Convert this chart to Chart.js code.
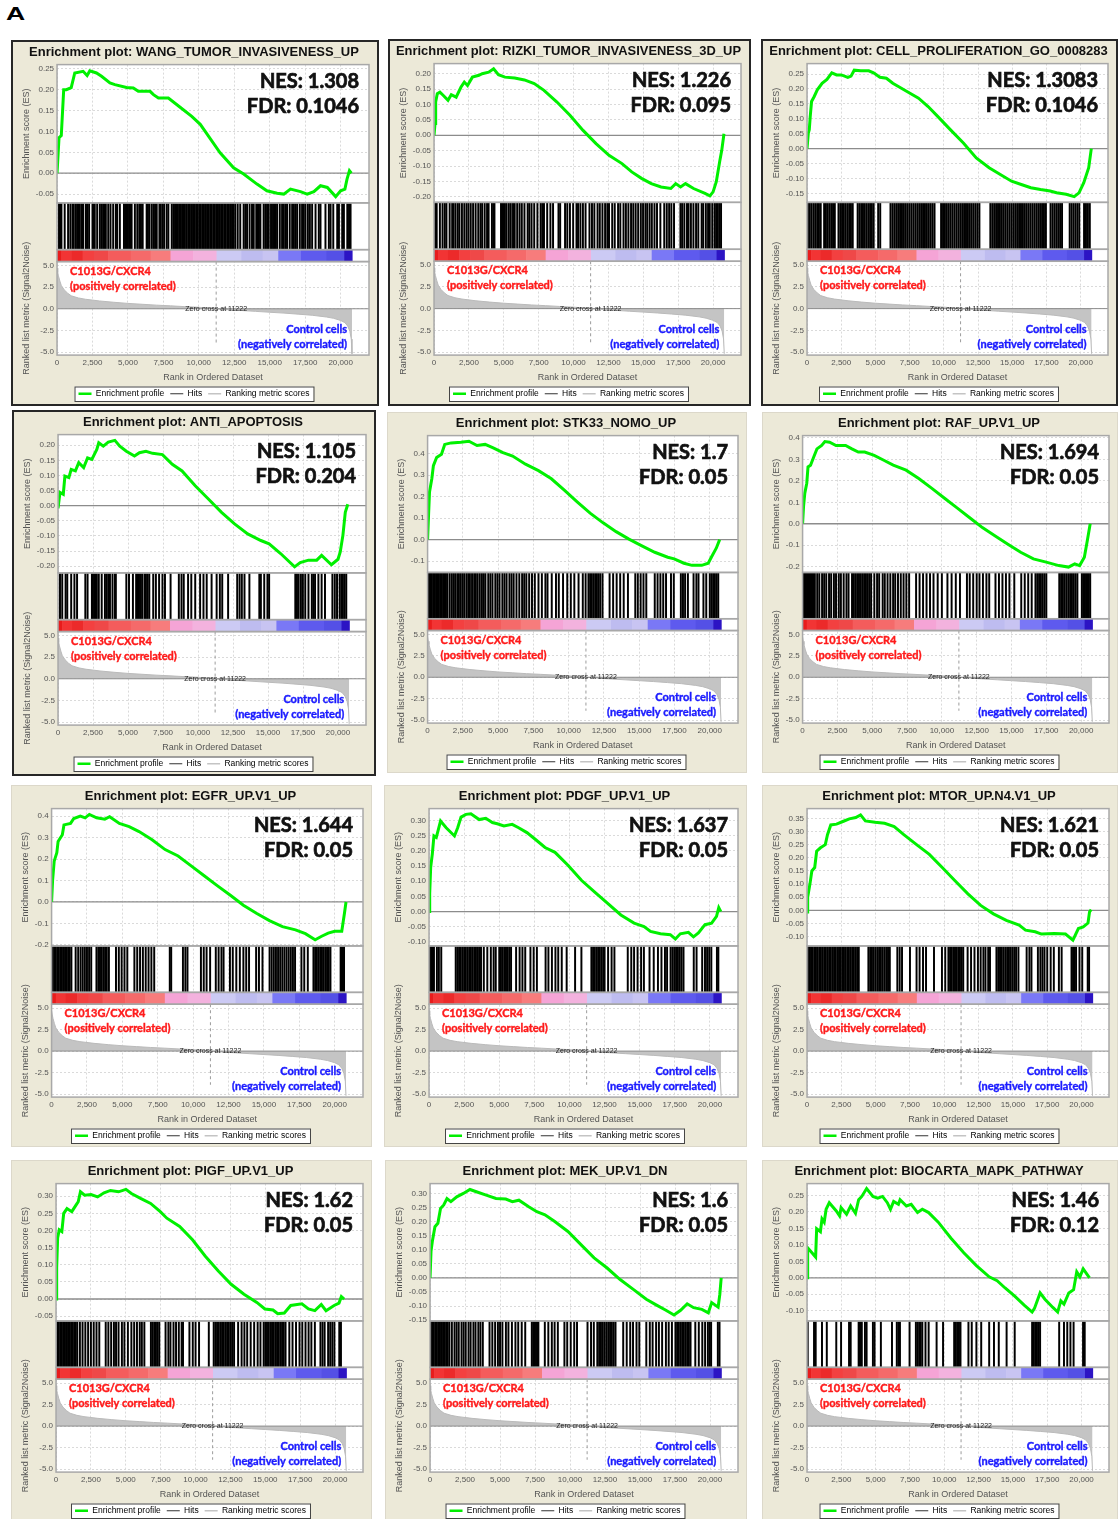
<!DOCTYPE html>
<html>
<head>
<meta charset="utf-8">
<script src="https://cdn.jsdelivr.net/npm/chart.js@4.4.1/dist/chart.umd.min.js"></script>
<style>
  body { margin: 0; width: 1119px; height: 1519px; background: #fff; position: relative; overflow: hidden; }
  #letter { position: absolute; left: 6px; top: 4px; font: bold 19px/19px "Liberation Sans", Arial, sans-serif; transform: scaleX(1.4); transform-origin: left top; }
  .panel { position: absolute; box-sizing: border-box; background: #ece9d8; }
  .panel.framed { border: 2px solid #262626; }
  .panel.plain { border: 1px solid #dcd8ca; }
  .panel canvas { display: block; }
</style>
</head>
<body>
<div id="letter">A</div>
<script>
// ranked list (shared by every panel)
const rankX = [0, 50, 100, 200, 300, 500, 750, 1000, 1500, 2000, 3000, 4000, 5000, 6000, 7000, 8000, 9000, 10000, 11222, 12000, 13000, 14000, 15000, 16000, 17000, 18000, 19000, 19500, 20000, 20300, 20500, 20650, 20750, 20800];
const rankY = [4.7, 4.2, 3.8, 3.2, 2.7, 2.2, 1.8, 1.5, 1.25, 1.1, 0.9, 0.75, 0.62, 0.52, 0.42, 0.34, 0.25, 0.17, 0, -0.1, -0.2, -0.3, -0.4, -0.5, -0.62, -0.75, -0.95, -1.1, -1.35, -1.6, -2.0, -2.6, -3.5, -5.2];
const zeroCross = 11222;
const listEnd = 20800;
const xTicks = [0, 2500, 5000, 7500, 10000, 12500, 15000, 17500, 20000];
const rankTicks = [-5, -2.5, 0, 2.5, 5];
// colour of the ranked list heat bar, by rank
const heatStops = [[0, '#e81c1c'], [300, '#f23434'], [1000, '#ec2a2a'], [1800, '#f34040'], [2600, '#ef4848'], [3600, '#f45c5c'], [5200, '#f56a6a'], [6600, '#f77c7c'], [8000, '#f5a4d6'], [9600, '#f3b2de'], [11250, '#cccaf4'], [13000, '#bebcf0'], [14500, '#c8c4f2'], [15600, '#7a78f6'], [17200, '#5e5aee'], [19000, '#5450e6'], [20250, '#2c14c4'], [20800, null]];

const titles = ['WANG_TUMOR_INVASIVENESS_UP', 'RIZKI_TUMOR_INVASIVENESS_3D_UP', 'CELL_PROLIFERATION_GO_0008283', 'ANTI_APOPTOSIS', 'STK33_NOMO_UP', 'RAF_UP.V1_UP', 'EGFR_UP.V1_UP', 'PDGF_UP.V1_UP', 'MTOR_UP.N4.V1_UP', 'PIGF_UP.V1_UP', 'MEK_UP.V1_DN', 'BIOCARTA_MAPK_PATHWAY'];
const nesValues = ['1.308', '1.226', '1.3083', '1.105', '1.7', '1.694', '1.644', '1.637', '1.621', '1.62', '1.6', '1.46'];
const fdrValues = ['0.1046', '0.095', '0.1046', '0.204', '0.05', '0.05', '0.05', '0.05', '0.05', '0.05', '0.05', '0.12'];
// ES axis: min, max, tick step
const esRanges = [[-0.071, 0.26, 0.05], [-0.218, 0.233, 0.05], [-0.18, 0.285, 0.05], [-0.222, 0.235, 0.05], [-0.153, 0.484, 0.1], [-0.227, 0.411, 0.1], [-0.205, 0.435, 0.1], [-0.113, 0.339, 0.05], [-0.135, 0.387, 0.05], [-0.064, 0.337, 0.05], [-0.153, 0.335, 0.05], [-0.131, 0.286, 0.05]];

// running enrichment score, [rank, ES]
const esWang = [[0,0],[140,0.085],[300,0.09],[470,0.2],[660,0.2],[1000,0.205],[1250,0.24],[1840,0.244],[2120,0.234],[2310,0.245],[2780,0.24],[3140,0.232],[3730,0.216],[4080,0.212],[4900,0.205],[5380,0.204],[5730,0.196],[6560,0.196],[6800,0.188],[7150,0.18],[7850,0.18],[8680,0.158],[9500,0.136],[10100,0.117],[10680,0.089],[11500,0.049],[12450,0.013],[13160,-0.002],[14100,-0.026],[14800,-0.042],[15520,-0.048],[15990,-0.05],[16460,-0.038],[17170,-0.044],[17640,-0.05],[18110,-0.044],[18580,-0.03],[19060,-0.034],[19650,-0.056],[20000,-0.042],[20300,-0.038],[20450,-0.014],[20620,0.006],[20760,0]];
const esRizki = [[0,0],[70,0.038],[117,0.108],[233,0.135],[420,0.14],[650,0.13],[1000,0.114],[1235,0.132],[1585,0.124],[1935,0.157],[2170,0.173],[2400,0.162],[2750,0.189],[3220,0.195],[3450,0.2],[3920,0.205],[4270,0.216],[4615,0.197],[5080,0.189],[5780,0.186],[6480,0.18],[7180,0.168],[7880,0.146],[8810,0.108],[9740,0.065],[10680,0.016],[11610,-0.027],[12540,-0.065],[13470,-0.092],[14170,-0.119],[14870,-0.14],[15570,-0.157],[16270,-0.168],[16970,-0.173],[17320,-0.157],[17670,-0.168],[18020,-0.157],[18600,-0.173],[19420,-0.189],[19770,-0.197],[20000,-0.184],[20230,-0.151],[20470,-0.086],[20620,-0.049],[20780,0.005]];
const esCell = [[0,0],[94,0.052],[164,0.063],[235,0.108],[330,0.158],[516,0.174],[750,0.197],[1100,0.219],[1455,0.232],[1810,0.254],[2160,0.247],[2510,0.247],[2980,0.239],[3215,0.243],[3450,0.263],[3920,0.261],[4510,0.261],[4860,0.254],[5330,0.239],[5800,0.236],[6270,0.219],[7210,0.194],[8150,0.169],[8850,0.141],[9550,0.108],[10490,0.063],[11430,0.019],[12370,-0.031],[13310,-0.064],[14250,-0.09],[14950,-0.109],[15660,-0.12],[16360,-0.131],[17070,-0.137],[17770,-0.142],[18240,-0.148],[18940,-0.153],[19530,-0.161],[19880,-0.148],[20230,-0.114],[20590,-0.064],[20780,0]];
const esAnti = [[0,-0.009],[140,0.044],[375,0.038],[490,0.098],[775,0.093],[940,0.12],[1240,0.115],[1480,0.142],[1830,0.126],[2110,0.158],[2415,0.153],[2770,0.186],[2910,0.208],[3235,0.197],[3590,0.21],[4060,0.216],[4410,0.197],[4880,0.18],[5460,0.164],[5815,0.175],[6280,0.18],[6750,0.173],[7460,0.169],[8160,0.137],[8860,0.115],[9800,0.066],[10740,0.022],[11680,-0.022],[12610,-0.06],[13550,-0.093],[14490,-0.115],[15080,-0.126],[15900,-0.158],[16900,-0.202],[17300,-0.188],[17890,-0.18],[18480,-0.18],[18830,-0.164],[19530,-0.195],[20000,-0.177],[20160,-0.153],[20350,-0.098],[20520,-0.022],[20700,0.005]];
const esStk = [[0,0],[70,0.116],[137,0.222],[300,0.283],[412,0.344],[640,0.382],[985,0.397],[1215,0.443],[1670,0.45],[2360,0.453],[2930,0.458],[3505,0.438],[4080,0.443],[4650,0.427],[5340,0.405],[6025,0.389],[6940,0.351],[7860,0.321],[8775,0.283],[9690,0.23],[10600,0.176],[11520,0.123],[12440,0.078],[13360,0.037],[14270,0.002],[15190,-0.029],[16100,-0.059],[17020,-0.082],[17480,-0.09],[18170,-0.11],[18740,-0.12],[19430,-0.12],[19890,-0.11],[20110,-0.082],[20460,-0.04],[20700,0]];
const esRaf = [[0,0],[70,0.081],[160,0.143],[300,0.189],[390,0.265],[570,0.273],[800,0.311],[1030,0.349],[1370,0.365],[1600,0.383],[1940,0.38],[2400,0.365],[3090,0.365],[3540,0.349],[4000,0.334],[4460,0.334],[5140,0.319],[5830,0.296],[6510,0.273],[7430,0.25],[8340,0.211],[9260,0.166],[10170,0.12],[11090,0.074],[12000,0.028],[12910,-0.018],[13830,-0.057],[14740,-0.095],[15660,-0.133],[16570,-0.164],[17490,-0.179],[18400,-0.195],[19090,-0.202],[19540,-0.187],[19890,-0.195],[20230,-0.156],[20460,-0.072],[20650,0]];
const esEgfr = [[0,0],[70,0.099],[184,0.19],[370,0.229],[460,0.282],[760,0.313],[875,0.359],[1340,0.366],[1570,0.389],[2030,0.4],[2370,0.392],[2670,0.408],[3180,0.392],[3760,0.386],[4100,0.397],[4790,0.366],[5480,0.351],[6180,0.328],[7100,0.29],[8020,0.244],[8940,0.214],[9860,0.168],[10780,0.122],[11700,0.076],[12630,0.031],[13550,-0.015],[14470,-0.053],[15390,-0.087],[16310,-0.115],[17230,-0.13],[17930,-0.148],[18620,-0.176],[19080,-0.16],[19540,-0.145],[20000,-0.137],[20500,-0.137],[20690,-0.053],[20800,0]];
const esPdgf = [[0,0],[47,0.06],[117,0.146],[235,0.19],[350,0.249],[516,0.244],[634,0.265],[820,0.298],[1220,0.276],[1810,0.249],[2040,0.276],[2280,0.311],[2630,0.32],[2980,0.322],[3570,0.303],[4040,0.307],[4510,0.293],[4860,0.289],[5330,0.282],[5920,0.287],[6380,0.276],[6970,0.26],[7560,0.238],[8260,0.211],[8970,0.195],[9910,0.152],[10850,0.103],[11780,0.065],[12720,0.027],[13660,-0.011],[14600,-0.038],[15310,-0.049],[15770,-0.065],[16480,-0.073],[17180,-0.076],[17540,-0.09],[17890,-0.073],[18470,-0.068],[18830,-0.083],[19180,-0.07],[19650,-0.043],[20120,-0.038],[20470,-0.016],[20630,0.013],[20780,0]];
const esMtor = [[0,-0.006],[47,0.05],[210,0.1],[350,0.15],[560,0.163],[700,0.225],[980,0.238],[1330,0.25],[1490,0.288],[1730,0.325],[2150,0.328],[2610,0.338],[3080,0.348],[3550,0.353],[3900,0.363],[4250,0.34],[4950,0.335],[5650,0.331],[6350,0.319],[7050,0.288],[7980,0.25],[8910,0.213],[9850,0.163],[10780,0.113],[11720,0.063],[12650,0.019],[13580,-0.013],[14520,-0.038],[15450,-0.056],[15920,-0.075],[16620,-0.081],[17080,-0.09],[18020,-0.088],[18830,-0.09],[19370,-0.113],[19770,-0.069],[20120,-0.063],[20470,-0.048],[20580,-0.006],[20700,0.003]];
const esPigf = [[0,0],[46,0.091],[115,0.178],[230,0.202],[415,0.197],[550,0.25],[785,0.264],[1130,0.255],[1430,0.274],[1590,0.284],[1750,0.313],[2050,0.303],[2510,0.305],[2980,0.298],[3440,0.31],[3900,0.317],[4480,0.313],[5010,0.32],[5400,0.308],[6090,0.293],[6780,0.279],[7470,0.255],[7940,0.236],[8860,0.212],[9780,0.173],[10700,0.125],[11630,0.082],[12550,0.043],[13470,0.014],[14390,-0.01],[14970,-0.029],[15550,-0.032],[15890,-0.043],[16360,-0.041],[16820,-0.019],[17620,-0.014],[18090,-0.029],[18550,-0.034],[19010,-0.016],[19350,-0.034],[19930,-0.019],[20280,-0.012],[20450,0.007],[20650,0]];
const esMek = [[0,0],[70,0.094],[163,0.129],[350,0.182],[560,0.194],[750,0.247],[980,0.259],[1210,0.282],[1490,0.271],[1910,0.288],[2380,0.3],[2850,0.314],[3310,0.306],[4010,0.294],[4710,0.282],[5410,0.28],[5880,0.271],[6350,0.276],[7050,0.253],[7630,0.235],[8210,0.224],[8910,0.2],[9850,0.165],[10780,0.118],[11720,0.071],[12650,0.035],[13580,-0.006],[14520,-0.041],[15450,-0.076],[16150,-0.096],[16850,-0.115],[17430,-0.132],[17900,-0.115],[18370,-0.092],[18830,-0.106],[19420,-0.112],[19880,-0.124],[20120,-0.088],[20580,-0.104],[20700,-0.059],[20800,0]];
const esBio = [[0,0],[46,0.091],[626,0.063],[700,0.149],[975,0.14],[1090,0.179],[1250,0.169],[1390,0.208],[1620,0.228],[2130,0.203],[2370,0.188],[2480,0.213],[2880,0.193],[3180,0.218],[3530,0.196],[3760,0.237],[3990,0.247],[4340,0.271],[4800,0.247],[5150,0.242],[5500,0.247],[5850,0.228],[6080,0.208],[6310,0.232],[6660,0.223],[6780,0.237],[7240,0.218],[7590,0.223],[8050,0.198],[8400,0.208],[8860,0.198],[9560,0.169],[10490,0.12],[11420,0.076],[12340,0.037],[13270,0.003],[13850,-0.009],[14430,-0.031],[15130,-0.056],[15820,-0.083],[16400,-0.104],[16570,-0.093],[16980,-0.046],[17330,-0.065],[17910,-0.09],[18260,-0.104],[18490,-0.07],[18720,-0.08],[19070,-0.046],[19420,-0.036],[19650,0.018],[19880,0.003],[20120,0.027],[20580,0]];

// gene set members (hits), rank in ordered dataset
const hitsWang = [140,240,310,540,780,940,1090,1180,1320,1420,1490,1600,1720,1790,1840,2030,2120,2260,2500,2590,2660,2830,3020,3140,3250,3350,3440,3610,3770,3960,4150,4240,4430,4720,4810,4900,5000,5090,5190,5260,5490,5660,5800,5920,6040,6320,6410,6510,6670,6790,6910,7030,7220,7310,7430,7550,7730,7850,8090,8210,8320,8420,8520,8620,8720,8820,8920,9020,9150,9260,9370,9480,9590,9700,9810,9920,10030,10140,10250,10360,10470,10580,10690,10800,10910,11020,11130,11240,11350,11460,11570,11680,11790,11900,12010,12120,12230,12340,12450,12570,12740,12920,13160,13280,13400,13580,13750,13870,14050,14150,14240,14340,14570,14690,14810,14930,15090,15230,15330,15420,15520,15710,15870,15990,16110,16220,16410,16580,16700,16810,16930,17120,17280,17400,17520,17690,17830,17990,18230,18460,18580,18930,19170,19290,19480,19760,19880,20110,20230,20470,20590,20700];
const hitsRizki = [70,190,420,610,770,890,1120,1300,1400,1540,1700,1820,2000,2170,2330,2470,2630,2800,2980,3170,3330,3450,3630,3800,3910,4150,4260,4330,4800,4890,4990,5080,5200,5360,5500,5660,5780,5960,6130,6290,6480,6710,6830,6990,7180,7410,7640,7760,7880,8110,8340,8530,8920,9040,9390,9550,9740,9970,10210,10320,10490,10670,10860,11140,11320,11490,11720,11880,12070,12260,12420,12540,12770,12950,13190,13350,13580,13750,13930,14120,14280,14450,14630,14820,14980,15150,15280,15450,15610,15800,15980,16220,16500,16680,16850,17010,17200,17660,17780,17940,18130,18240,18410,18590,18780,18940,19180,19290,19480,19640,19760,19940,20110,20220,20340,20460,20570];
const hitsCell = [60,200,330,470,600,740,870,1000,1250,1380,1510,1640,1770,1900,2030,2300,2430,2560,2690,2820,2950,3080,3210,3340,3700,3830,3960,4090,4220,4350,4480,4610,4740,4870,5200,5350,6100,6240,6380,6520,6660,6800,6940,7080,7220,7360,7500,7640,7780,7920,8060,8200,8340,8480,8620,8760,8900,9040,9180,9320,9800,9940,10080,10220,10360,10500,10640,10780,10920,11060,11200,11340,11480,11620,11760,11900,12040,12180,12320,12460,12600,13400,13540,13680,13820,13960,14100,14240,14380,14520,14660,14800,14940,15080,15220,15360,15500,15640,15780,15920,16060,16200,16340,16480,16620,16760,16900,17040,17180,17320,17460,17800,17940,18080,18220,18360,18500,18640,19200,19340,19480,19620,19760,19900,20250,20390,20530,20670];
const hitsAnti = [140,300,540,660,940,1170,1360,1950,2110,2420,2490,2580,2670,2770,2910,3120,3350,3470,3590,3710,3890,4060,4130,4880,5070,5350,5580,5680,5770,5860,6000,6170,6280,6400,6520,6800,6990,7220,7460,7640,8040,8630,8820,8980,9290,9520,9800,10150,10390,10620,10970,11330,11560,11730,12150,12800,12970,13130,13320,13670,14380,14490,14730,14960,15080,16950,17070,17190,17350,17490,17660,17890,18130,18240,18360,18600,18830,19070,19600,19770,19930,20120,20240,20350,20470,20590];
const hitsStk = [0,100,200,300,400,500,600,700,800,900,1000,1100,1200,1300,1400,1560,1700,1820,1950,2100,2220,2350,2480,2600,2750,2880,3000,3150,3300,3420,3550,3700,3850,3980,4100,4300,4450,4600,4800,4950,5100,5300,5450,5600,5800,5950,6100,6300,6500,6700,6850,7000,7200,7400,7600,7860,8100,8350,8500,8800,9100,9300,9600,9900,10150,10400,10700,11000,11200,11400,11520,11640,11760,11880,12000,12120,12240,12400,12900,13150,13400,13650,13900,14200,14720,14900,15100,15300,15500,16100,16300,16500,16700,16900,17250,17450,17950,18100,18250,18450,18850,19050,19200,19550,19750,20000,20120,20240,20360,20480,20600];
const hitsRaf = [0,80,160,240,320,400,480,560,640,720,800,880,1050,1200,1400,1550,1700,1900,2050,2250,2400,2600,2750,2950,3150,3300,3550,3680,3800,3920,4050,4180,4300,4420,4550,4680,4800,4920,5150,5350,5500,5750,5900,6100,6300,6500,6650,6850,7050,7250,7450,7650,8150,8400,8650,8900,9150,9400,9700,10000,10400,10700,11000,11300,11800,12000,12250,12500,12700,12950,13200,13400,13850,14100,14350,14600,14850,15200,15700,15950,16200,16450,16720,16850,16980,17110,17240,17370,17500,18430,18560,18690,18820,18950,19080,19210,19340,19470,19600,19730,20050,20150,20250,20350,20450,20550,20650];
const hitsEgfr = [70,180,290,400,510,620,730,840,950,1060,1170,1280,1400,1700,1880,2050,2200,2350,2500,2650,2800,3170,3300,3420,3540,3660,3780,3900,4050,4550,4750,4950,5150,5350,5850,6050,6250,6450,6650,6850,7050,7250,8350,8450,9280,9450,9600,10550,10750,10950,11200,11600,11800,12000,12150,12600,12800,13050,13300,13550,13750,13950,14450,14650,14900,15400,15550,15700,15850,16000,16150,16300,16450,16600,16750,16900,17050,17200,17650,17850,18100,18500,18620,18740,18860,18980,19100,19220,19340,19460,19580,19700,20420,20500,20580,20660];
const hitsPdgf = [50,150,250,350,560,700,870,1900,2020,2140,2260,2380,2500,2620,2740,2860,2980,3100,3220,3340,3460,3570,3700,3900,4150,4400,4600,4750,5000,5120,5240,5360,5480,5600,5720,5840,6200,6450,6650,6850,7220,7450,7680,8300,8500,8750,9000,9200,9450,9800,10400,10850,11560,11680,11800,11920,12040,12160,12280,12400,12500,12750,13000,13200,14150,14400,14600,14850,15100,15300,15700,16000,16300,16550,16800,16950,17200,17330,17460,17590,17720,17850,17980,18120,18850,19050,19450,19650,19800,19950,20100,20500,20600];
const hitsMtor = [50,170,290,410,530,650,770,890,1010,1130,1250,1370,1490,1610,1730,1850,1970,2090,2210,2330,2450,2570,2690,2810,2930,3050,3170,3290,3410,3530,3650,3770,4470,4600,4730,4860,4990,5120,5250,5380,5510,5640,5770,5900,6030,6580,6750,6920,7500,7980,8200,8450,8670,9250,9830,10070,10300,10420,10540,10660,10780,10900,11020,11140,11260,11380,11700,11950,12200,12450,12650,12850,13000,13200,13330,13800,13930,14060,14190,14320,14450,14580,14710,14840,14970,15100,15230,15400,16000,16200,16350,16820,17000,17150,17300,17500,17750,17980,18350,18550,19270,19380,19490,19600,19850,20050,20450,20550];
const hitsPigf = [90,200,310,420,530,640,750,860,970,1080,1190,1300,1410,1520,1710,1900,2100,2300,2500,2700,2900,3100,3560,3750,3950,4150,4300,4480,4720,4900,5150,5400,5600,5800,6000,6150,6330,6800,6920,7040,7160,7280,7400,7850,8050,8200,8420,8600,8800,9000,9100,9560,9800,10000,10250,10950,11300,11420,11540,11660,11780,11900,12020,12140,12260,12380,12500,12620,12760,13050,13300,13500,13700,13950,14200,14450,14650,14880,15000,15120,15240,15360,15480,15600,15720,15840,15960,16080,16200,16320,16450,16720,16950,17200,17450,17650,17880,18100,18300,18550,18950,19100,19250,19500,19650,19800,19950,20300,20420];
const hitsMek = [50,160,270,380,490,600,710,820,930,1040,1150,1260,1380,1560,1750,1900,2050,2250,2400,2550,2750,2900,3100,3250,3450,3600,3770,4250,4450,4650,4850,5000,5170,5420,5600,5850,6100,6300,6550,6800,7270,7370,7470,7570,7670,7740,8200,8450,8700,8900,9130,9600,9800,10050,10300,10500,11250,11500,11700,11950,12080,12210,12340,12470,12600,12730,12860,12990,13120,13250,13800,14050,14300,14500,14750,14950,15450,15700,15900,16150,16350,16580,16850,17050,17280,17530,17650,17770,17890,18010,18130,18250,18370,18490,18610,18950,19200,19450,19650,19850,19980,20080,20560,20680];
const hitsBio = [50,510,630,1090,1440,2130,2480,3060,3180,3760,3830,3900,3990,4220,4340,4800,4920,5380,6190,6540,6660,6770,7470,7930,8050,8170,8280,8400,8630,8860,9440,9910,10720,10840,10950,11070,11180,11760,12000,12340,12690,13270,13620,13970,14540,15130,16400,16520,16630,16750,16870,16980,18370,18720,18960,19190,19420,20110,20230];

const esCurves = [esWang, esRizki, esCell, esAnti, esStk, esRaf, esEgfr, esPdgf, esMtor, esPigf, esMek, esBio];
const hitSets = [hitsWang, hitsRizki, hitsCell, hitsAnti, hitsStk, hitsRaf, hitsEgfr, hitsPdgf, hitsMtor, hitsPigf, hitsMek, hitsBio];

// panel boxes on the page: left, top, width, height
const boxes = [
  [11, 40, 368, 366], [388, 39, 363, 367], [761, 39, 357, 367],
  [12, 410, 364, 366], [387, 412, 360, 361], [762, 412, 356, 361],
  [11, 785, 361, 362], [384, 785, 363, 362], [762, 785, 356, 362],
  [11, 1160, 361, 362], [385, 1160, 362, 362], [762, 1160, 356, 362]
];

const SANS = '"Liberation Sans", Arial, sans-serif';
const CAL = 'Lato, "Open Sans", sans-serif';
Chart.defaults.font.family = SANS;
Chart.defaults.color = '#555';

const legendKeys = [
  {text: 'Enrichment profile', color: '#00ee00', width: 2.5},
  {text: 'Hits', color: '#333', width: 1.2},
  {text: 'Ranking metric scores', color: '#c4c4c4', width: 1.5}
];

const commas = v => String(v).replace(/\B(?=(\d{3})+(?!\d))/g, ',');
const setTicks = values => scale => { scale.ticks = values.map(v => ({value: v})); };

function esTickValues(min, max, step) {
  const out = [];
  for (let k = Math.ceil(min / step - 1e-9); k <= Math.floor(max / step + 1e-9); k++) out.push(+(k * step).toFixed(3));
  return out;
}

function legendBox(chart) {
  const hb = chart.legend && chart.legend.legendHitBoxes;
  if (!hb || !hb.length) return null;
  const l = Math.min(...hb.map(h => h.left)) - 4;
  const r = Math.max(...hb.map(h => h.left + h.width)) + 4;
  const t = Math.min(...hb.map(h => h.top)) - 3;
  const b = Math.max(...hb.map(h => h.top + h.height)) + 3;
  return {x: l, y: t, w: r - l, h: b - t};
}

function boldText(ctx, text, x, y, w) {
  ctx.lineWidth = w;
  ctx.strokeStyle = ctx.fillStyle;
  ctx.strokeText(text, x, y);
  ctx.fillText(text, x, y);
}

const gseaDecor = {
  id: 'gseaDecor',
  beforeDraw(chart) {
    const {ctx, chartArea: a} = chart;
    ctx.save();
    ctx.fillStyle = '#fff';
    ctx.fillRect(a.left, a.top, a.right - a.left, a.bottom - a.top);
    const lb = legendBox(chart);
    if (lb) ctx.fillRect(lb.x, lb.y, lb.w, lb.h);
    ctx.restore();
  },
  beforeDatasetsDraw(chart) {
    const {ctx, chartArea: a, scales: {x, y, yC, yR}} = chart;
    ctx.save();
    // heat bar
    for (let k = 0; k < heatStops.length - 1; k++) {
      const x0 = x.getPixelForValue(heatStops[k][0]);
      const x1 = x.getPixelForValue(heatStops[k + 1][0]);
      ctx.fillStyle = heatStops[k][1];
      ctx.fillRect(x0, yC.top, x1 - x0 + 0.6, yC.bottom - yC.top);
    }
    // ES zero line
    ctx.strokeStyle = '#8c8c8c';
    ctx.lineWidth = 1.3;
    const y0 = y.getPixelForValue(0);
    ctx.beginPath(); ctx.moveTo(a.left, y0); ctx.lineTo(a.right, y0); ctx.stroke();
    // zero cross marker
    const zx = x.getPixelForValue(zeroCross);
    ctx.setLineDash([3, 3]);
    ctx.strokeStyle = '#9c9c9c';
    ctx.lineWidth = 1;
    ctx.beginPath(); ctx.moveTo(zx, yR.top); ctx.lineTo(zx, yR.getPixelForValue(-3.9)); ctx.stroke();
    ctx.restore();
  },
  afterDatasetsDraw(chart, args, opts) {
    const {ctx, chartArea: a, scales: {x, y, yH, yC, yR}} = chart;
    ctx.save();
    const r0 = yR.getPixelForValue(0);
    ctx.strokeStyle = '#8c8c8c';
    ctx.lineWidth = 1;
    ctx.beginPath(); ctx.moveTo(a.left, r0); ctx.lineTo(a.right, r0); ctx.stroke();
    // area frames
    ctx.strokeStyle = '#a8a8a8';
    ctx.lineWidth = 1.5;
    [y, yH, yC, yR].forEach(s => ctx.strokeRect(a.left, s.top, a.right - a.left, s.bottom - s.top));
    // zero cross label
    ctx.fillStyle = '#222';
    ctx.font = '7px ' + SANS;
    ctx.textAlign = 'center';
    ctx.textBaseline = 'middle';
    ctx.fillText('Zero cross at ' + zeroCross, x.getPixelForValue(zeroCross), r0);
    // NES / FDR
    ctx.textBaseline = 'alphabetic';
    ctx.textAlign = 'right';
    ctx.fillStyle = '#111';
    ctx.font = 'bold 20px ' + CAL;
    boldText(ctx, 'NES: ' + opts.nes, a.right - 10, y.top + 23, 0.7);
    boldText(ctx, 'FDR: ' + opts.fdr, a.right - 10, y.top + 48, 0.7);
    // phenotype labels
    ctx.font = 'bold 11px ' + CAL;
    ctx.textAlign = 'left';
    ctx.fillStyle = '#ff1a1a';
    boldText(ctx, 'C1013G/CXCR4', a.left + 13, yR.top + 13, 0.4);
    boldText(ctx, '(positively correlated)', a.left + 13, yR.top + 28, 0.4);
    ctx.textAlign = 'right';
    ctx.fillStyle = '#1a1aff';
    const rx = x.getPixelForValue(listEnd) - 5;
    boldText(ctx, 'Control cells', rx, yR.bottom - 22, 0.4);
    boldText(ctx, '(negatively correlated)', rx, yR.bottom - 7, 0.4);
    ctx.restore();
  },
  afterDraw(chart) {
    const lb = legendBox(chart);
    if (!lb) return;
    const ctx = chart.ctx;
    ctx.save();
    ctx.strokeStyle = '#444';
    ctx.lineWidth = 1;
    ctx.strokeRect(lb.x + 0.5, lb.y + 0.5, lb.w, lb.h);
    ctx.restore();
  }
};

const tickFont = {size: 8};
const axisTitleFont = {size: 9};
const dotGrid = {color: '#dadada', drawTicks: false, offset: false};
const dotBorder = {display: false, dash: [2, 2]};

function buildPanel(i) {
  const [bx, by, bw, bh] = boxes[i];
  const framed = i < 4;
  const bd = framed ? 2 : 1;
  const div = document.createElement('div');
  div.className = 'panel ' + (framed ? 'framed' : 'plain');
  Object.assign(div.style, {left: bx + 'px', top: by + 'px', width: bw + 'px', height: bh + 'px'});
  const canvas = document.createElement('canvas');
  canvas.width = bw - 2 * bd;
  canvas.height = bh - 2 * bd;
  div.appendChild(canvas);
  document.body.appendChild(div);

  const [yMin, yMax, yStep] = esRanges[i];

  new Chart(canvas, {
    type: 'line',
    data: {
      datasets: [
        {label: 'Enrichment profile', data: esCurves[i], yAxisID: 'y', borderColor: '#00f000', borderWidth: 3, pointRadius: 0, tension: 0, fill: false},
        {type: 'bar', label: 'Hits', data: hitSets[i].map(r => ({x: r, y: 1})), yAxisID: 'yH', backgroundColor: '#000', borderWidth: 0, barThickness: 1.3},
        {label: 'Ranking metric scores', data: rankX.map((r, k) => [r, rankY[k]]), yAxisID: 'yR', borderColor: '#bababa', borderWidth: 1, backgroundColor: '#c4c4c4', fill: 'origin', pointRadius: 0, tension: 0}
      ]
    },
    options: {
      responsive: false,
      animation: false,
      events: [],
      layout: {padding: {left: 6, right: 8, top: 0, bottom: -4}},
      plugins: {
        title: {display: true, text: 'Enrichment plot: ' + titles[i], color: '#111', font: {size: 13, weight: 'bold'}, padding: {top: 3, bottom: 4}},
        legend: {
          position: 'bottom',
          labels: {
            usePointStyle: true, pointStyleWidth: 13, boxHeight: 8, padding: 6,
            color: '#333', font: {size: 8.5},
            generateLabels: () => legendKeys.map(k => ({text: k.text, pointStyle: 'line', strokeStyle: k.color, fillStyle: k.color, lineWidth: k.width, hidden: false}))
          }
        },
        tooltip: {enabled: false},
        gseaDecor: {nes: nesValues[i], fdr: fdrValues[i]}
      },
      scales: {
        x: {
          type: 'linear', min: 0, max: 22000, offset: false,
          afterBuildTicks: setTicks(xTicks),
          ticks: {autoSkip: false, maxRotation: 0, padding: 3, font: tickFont, callback: v => commas(v)},
          grid: dotGrid, border: dotBorder,
          title: {display: true, text: 'Rank in Ordered Dataset', font: axisTitleFont, padding: {top: 1, bottom: 1}}
        },
        y: {
          type: 'linear', position: 'left', stack: 'gsea', stackWeight: 139, weight: 4,
          min: yMin, max: yMax,
          afterBuildTicks: setTicks(esTickValues(yMin, yMax, yStep)),
          ticks: {autoSkip: false, padding: 3, font: tickFont, callback: v => v.toFixed(yStep < 0.1 ? 2 : 1)},
          grid: dotGrid, border: dotBorder,
          title: {display: true, text: 'Enrichment score (ES)', font: axisTitleFont, padding: {top: 2, bottom: 1}}
        },
        yH: {
          type: 'linear', position: 'left', stack: 'gsea', stackWeight: 47, weight: 3,
          min: 0, max: 1, ticks: {display: false}, grid: {display: false}, border: {display: false}
        },
        yC: {
          type: 'linear', position: 'left', stack: 'gsea', stackWeight: 12, weight: 2,
          min: 0, max: 1, ticks: {display: false}, grid: {display: false}, border: {display: false}
        },
        yR: {
          type: 'linear', position: 'left', stack: 'gsea', stackWeight: 94, weight: 1,
          min: -5.35, max: 5.45,
          afterBuildTicks: setTicks(rankTicks),
          ticks: {autoSkip: false, padding: 3, font: tickFont, callback: v => v.toFixed(1)},
          grid: dotGrid, border: dotBorder,
          title: {display: true, text: 'Ranked list metric (Signal2Noise)', font: axisTitleFont, padding: {top: 2, bottom: 1}}
        }
      }
    },
    plugins: [gseaDecor]
  });
}

for (let i = 0; i < titles.length; i++) buildPanel(i);
</script>
</body>
</html>
